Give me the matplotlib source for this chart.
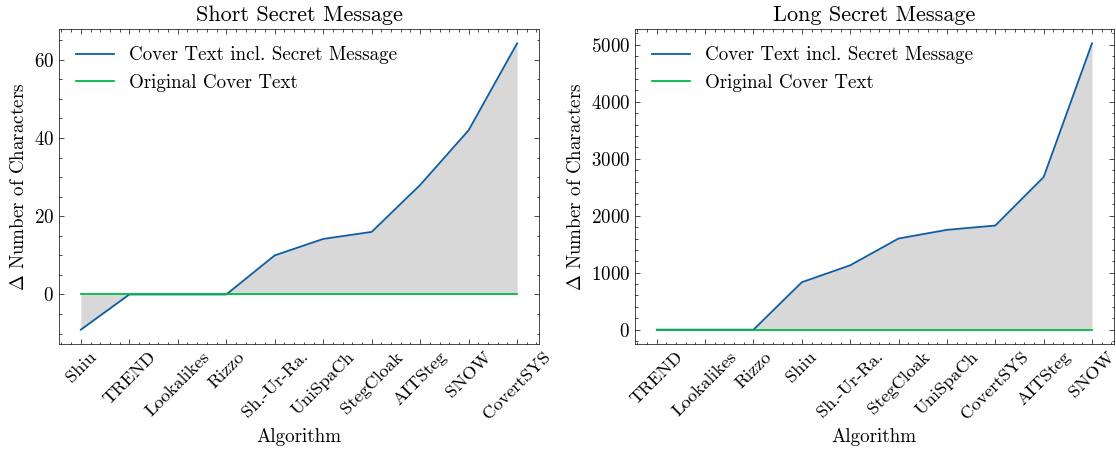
import matplotlib
matplotlib.use("Agg")
import matplotlib.pyplot as plt
from matplotlib.ticker import AutoMinorLocator, MultipleLocator

short_algorithms = ["Shiu", "TREND", "Lookalikes", "Rizzo", "Sh.-Ur-Ra.", "UniSpaCh",
                    "StegCloak", "AITSteg", "SNOW", "CovertSYS"]
short_stego = [-9, 0, 0, 0, 10, 14.2, 16, 28, 42, 64.2]
short_cover = [0, 0, 0, 0, 0, 0, 0, 0, 0, 0]

long_algorithms = ["TREND", "Lookalikes", "Rizzo", "Shiu", "Sh.-Ur-Ra.", "StegCloak",
                   "UniSpaCh", "CovertSYS", "AITSteg", "SNOW"]
long_stego = [0, 0, 0, 833, 1130, 1600, 1752, 1828, 2678, 5025]
long_cover = [0, 0, 0, 0, 0, 0, 0, 0, 0, 0]

titles = ["Short Secret Message", "Long Secret Message"]

plt.rcParams.update({
    "font.family": "serif",
    "font.serif": ["cmr10"],
    "mathtext.fontset": "cm",
    "axes.formatter.use_mathtext": True,
    "axes.unicode_minus": False,
    "font.size": 13.7,
    "xtick.labelsize": 13.2,
    "xtick.direction": "in",
    "ytick.direction": "in",
    "xtick.top": True,
    "ytick.right": True,
    "xtick.minor.visible": True,
    "ytick.minor.visible": True,
    "xtick.major.size": 3.5,
    "ytick.major.size": 3.5,
    "xtick.minor.size": 1.8,
    "ytick.minor.size": 1.8,
    "xtick.major.width": 0.5,
    "ytick.major.width": 0.5,
    "xtick.minor.width": 0.5,
    "ytick.minor.width": 0.5,
    "axes.linewidth": 0.5,
})

blue = "#0C5DA5"
green = "#00B945"

fig = plt.figure(figsize=(11.16, 4.54), dpi=100)
ax1 = fig.add_axes([0.0529, 0.2423, 0.430, 0.6937])
ax2 = fig.add_axes([0.569, 0.2423, 0.429, 0.6937])

for ax, algs, stego, cover, title in [
    (ax1, short_algorithms, short_stego, short_cover, titles[0]),
    (ax2, long_algorithms, long_stego, long_cover, titles[1]),
]:
    x = list(range(len(algs)))
    ax.fill_between(x, stego, cover, color="gray", alpha=0.3, linewidth=0)
    ax.plot(x, stego, color=blue, linewidth=1.3, label="Cover Text incl. Secret Message")
    ax.plot(x, cover, color=green, linewidth=1.3, label="Original Cover Text")
    ax.set_xticks(x)
    ax.set_xticklabels(algs, rotation=45, ha="center")
    ax.xaxis.set_minor_locator(AutoMinorLocator(5))
    ax.set_title(title, fontsize=16)
    ax.set_xlabel("Algorithm")
    ax.set_ylabel(r"$\Delta$ Number of Characters")
    ax.legend(loc="upper left", frameon=False)

ax1.yaxis.set_major_locator(MultipleLocator(20))
ax1.yaxis.set_minor_locator(MultipleLocator(5))
ax2.yaxis.set_major_locator(MultipleLocator(1000))
ax2.yaxis.set_minor_locator(MultipleLocator(200))

fig.savefig("out.png", dpi=100)
